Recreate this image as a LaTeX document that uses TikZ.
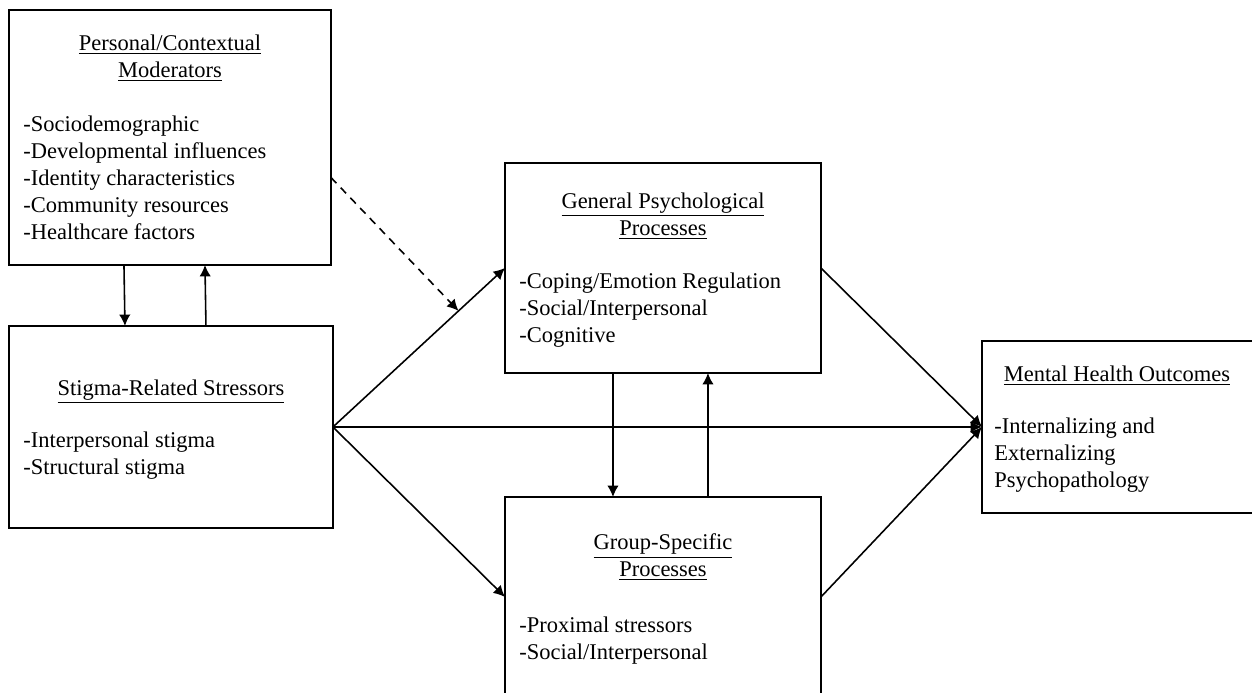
\documentclass[tikz,border=0pt]{standalone}
\usepackage{fontspec}
\setmainfont{Liberation Serif}
\usetikzlibrary{positioning,calc,arrows.meta}

\tikzset{
  box/.style={draw, line width=1pt, inner sep=0pt, outer sep=0pt, anchor=north west},
  head/.style={inner sep=0pt, align=center, anchor=north, font=\fontsize{12.8}{15.4}\selectfont},
  items/.style={inner sep=0pt, align=left, anchor=north west, font=\fontsize{12.8}{15.4}\selectfont},
  link/.style={->, >={Latex[length=6.5pt,width=6.5pt]}, line width=0.9pt},
}

\begin{document}
\begin{tikzpicture}[x=0.02cm, y=-0.02cm]
  \useasboundingbox (0,0) rectangle (1252,693);

  % boxes (pixel grid, y down)
  \node[box, minimum width=6.44cm, minimum height=5.10cm] (mod) at (9,10) {};
  \node[box, minimum width=6.48cm, minimum height=4.04cm] (stress) at (9,326) {};
  \node[box, minimum width=6.32cm, minimum height=4.20cm] (general) at (505,163) {};
  \node[box, minimum width=6.32cm, minimum height=4.00cm] (group) at (505,497) {};
  \node[box, minimum width=5.50cm, minimum height=3.44cm] (outcome) at (982,341) {};

  % texts
  \node[head] (modT) at (170,34.5) {\underline{Personal/Contextual}\\\underline{Moderators}};
  \node[items] (modL) at (23,115.5) {-Sociodemographic\\-Developmental influences\\-Identity characteristics\\-Community resources\\-Healthcare factors};

  \node[head] (stressT) at (171,379.5) {\underline{Stigma-Related Stressors}};
  \node[items] (stressL) at (23,431.5) {-Interpersonal stigma\\-Structural stigma};

  \node[head] (generalT) at (663,192.5) {\underline{General Psychological}\\\underline{Processes}};
  \node[items] (generalL) at (519,272.5) {-Coping/Emotion Regulation\\-Social/Interpersonal\\-Cognitive};

  \node[head] (groupT) at (663,533.5) {\underline{Group-Specific}\\\underline{Processes}};
  \node[items] (groupL) at (519,616.5) {-Proximal stressors\\-Social/Interpersonal};

  \node[head] (outcomeT) at (1117,365.5) {\underline{Mental Health Outcomes}};
  \node[items] (outcomeL) at (994,417.5) {-Internalizing and\\Externalizing\\Psychopathology};

  % connectors
  \draw[link] ($(mod.south)+(-46,0)$) -- ($(stress.north)+(-46,0)$);
  \draw[link] ($(stress.north)+(35,0)$) -- ($(mod.south)+(35,0)$);
  \draw[link] (stress.east) -- (general.west);
  \draw[link] (stress.east) -- (group.west);
  \draw[link] (stress.east) -- (outcome.west);
  \draw[link] (general.east) -- (outcome.west);
  \draw[link] (group.east) -- (outcome.west);
  \draw[link] ($(general.south)+(-50,0)$) -- ($(group.north)+(-50,0)$);
  \draw[link] ($(group.north)+(45,0)$) -- ($(general.south)+(45,0)$);
  \coordinate (meet) at ($(stress.east)!0.73!(general.west)$);
  \draw[link, dash pattern=on 4.5pt off 3.5pt] ($(mod.east)+(0,40)$) -- (meet);
\end{tikzpicture}
\end{document}
